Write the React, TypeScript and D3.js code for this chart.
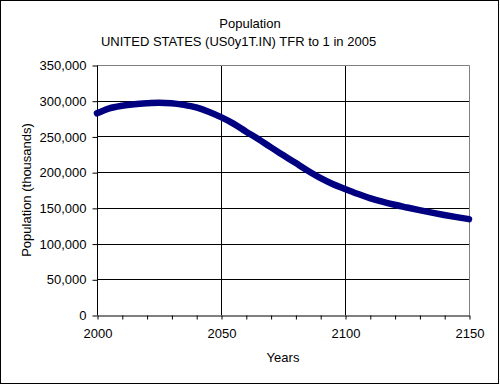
import * as d3 from 'd3';
import { useEffect, useRef } from 'react';

// values, thousands, every 5 years
const years = [
    2000, 2005, 2010, 2015, 2020, 2025, 2030, 2035, 2040, 2045,
    2050, 2055, 2060, 2065, 2070, 2075, 2080, 2085, 2090, 2095,
    2100, 2105, 2110, 2115, 2120, 2125, 2130, 2135, 2140, 2145, 2150,
];
const population = [
    282400, 289400, 293000, 295200, 296500, 297200, 296500, 294200, 290600, 284600,
    277000, 268000, 257000, 246500, 235000, 224000, 213000, 202000, 192000, 183500,
    176500, 169800, 163700, 158600, 154300, 150500, 146800, 143300, 140000, 137000, 134200,
];
const yTicks = [0, 50000, 100000, 150000, 200000, 250000, 300000, 350000];
const xTicks = [2000, 2050, 2100, 2150];
const titleLines = ['Population', 'UNITED STATES (US0y1T.IN) TFR to 1 in 2005'];

export default function App() {
    const ref = useRef<SVGSVGElement | null>(null);

    useEffect(() => {
        const svg = d3.select(ref.current);
        svg.selectAll('*').remove();

        const width = 500;
        const height = 385;
        const margin = { top: 65, right: 31, bottom: 70, left: 97 };
        const font = '"Liberation Sans", Arial, sans-serif';
        const fontSize = '13px';

        svg.attr('width', width).attr('height', height)
            .style('display', 'block')
            .style('position', 'absolute')
            .style('left', '0px').style('top', '0px')
            .style('font-family', font);

        svg.append('rect')
            .attr('x', 0.5).attr('y', 0.5)
            .attr('width', 498).attr('height', 383)
            .attr('fill', '#fff').attr('stroke', '#000');

        const x = d3.scaleLinear()
            .domain([2000, 2150])
            .range([margin.left, width - margin.right]);

        const y = d3.scaleLinear()
            .domain([0, 350000])
            .range([height - margin.bottom, margin.top]);

        // horizontal gridlines
        svg.append('g')
            .selectAll('line')
            .data(yTicks.filter(d => d > 0 && d < 350000))
            .enter()
            .append('line')
            .attr('x1', x(2000)).attr('x2', x(2150))
            .attr('y1', d => Math.round(y(d)) + 0.5)
            .attr('y2', d => Math.round(y(d)) + 0.5)
            .attr('stroke', '#000');

        // vertical gridlines
        svg.append('g')
            .selectAll('line')
            .data(xTicks.filter(d => d > 2000 && d < 2150))
            .enter()
            .append('line')
            .attr('x1', d => Math.round(x(d)) + 0.5)
            .attr('x2', d => Math.round(x(d)) + 0.5)
            .attr('y1', y(350000)).attr('y2', y(0))
            .attr('stroke', '#000');

        // top and right plot border
        svg.append('path')
            .attr('d', `M${x(2000)},${y(350000) + 0.5}H${x(2150) + 0.5}V${y(0)}`)
            .attr('fill', 'none')
            .attr('stroke', '#808080');

        const yAxis = svg.append('g')
            .attr('transform', `translate(${x(2000) + 0.5},0.5)`)
            .call(d3.axisLeft(y).tickValues(yTicks).tickSize(5).tickPadding(6)
                .tickFormat(d => d3.format(',')(d as number)));
        yAxis.select('.domain').remove();
        yAxis.append('line')
            .attr('x1', 0).attr('x2', 0)
            .attr('y1', y(350000)).attr('y2', y(0))
            .attr('stroke', '#000');
        yAxis.selectAll('text')
            .attr('fill', '#000')
            .style('font-family', font)
            .style('font-size', fontSize);
        yAxis.selectAll('line').attr('stroke', '#000');

        const xAxis = svg.append('g')
            .attr('transform', `translate(0.5,${y(0) + 0.5})`)
            .call(d3.axisBottom(x).ticks(15).tickSize(4).tickSizeOuter(0)
                .tickFormat(d => xTicks.includes(d as number) ? String(d) : ''));
        xAxis.select('.domain').attr('stroke', '#000');
        xAxis.selectAll('line').attr('stroke', '#000');
        xAxis.selectAll('text')
            .attr('fill', '#000')
            .attr('dy', '0')
            .attr('y', 22)
            .style('font-family', font)
            .style('font-size', fontSize);

        const line = d3.line<number>()
            .x((_, i) => x(years[i]))
            .y(d => y(d))
            .curve(d3.curveMonotoneX);

        svg.append('path')
            .datum(population)
            .attr('d', line)
            .attr('fill', 'none')
            .attr('stroke', '#000080')
            .attr('stroke-width', 6.5)
            .attr('stroke-linecap', 'round');

        // the two title lines are not centred on the same x in the original
        svg.append('g')
            .selectAll('text')
            .data(titleLines)
            .enter()
            .append('text')
            .attr('x', (_, i) => (i === 0 ? 250 : 238.5))
            .attr('y', (_, i) => 28 + i * 18)
            .attr('text-anchor', 'middle')
            .style('font-size', fontSize)
            .text(d => d);

        svg.append('text')
            .attr('x', (x(2000) + x(2150)) / 2)
            .attr('y', 362)
            .attr('text-anchor', 'middle')
            .style('font-size', fontSize)
            .text('Years');

        svg.append('text')
            .attr('transform', `translate(31,${(y(0) + y(350000)) / 2}) rotate(-90)`)
            .attr('text-anchor', 'middle')
            .style('font-size', fontSize)
            .text('Population (thousands)');
    }, []);

    return <svg ref={ref}></svg>;
}
